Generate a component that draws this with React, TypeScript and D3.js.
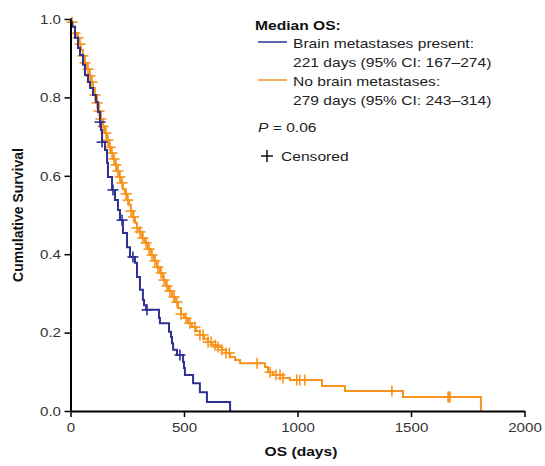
import React, { useEffect, useRef } from "react";
import * as d3 from "d3";

// Kaplan-Meier steps: time (days) of each drop, survival after the drop
const brainTimes = [2, 7, 20, 33, 42, 55, 64, 77, 86, 99, 112, 121, 130, 134, 139, 152, 161, 165, 183, 196, 209, 218, 231, 249, 262, 284, 293, 306, 319, 324, 333, 390, 394, 434, 443, 447, 452, 469, 496, 500, 504, 540, 570, 601, 703];
const brainSurv = [0.992, 0.98, 0.952, 0.926, 0.908, 0.883, 0.857, 0.839, 0.824, 0.806, 0.788, 0.763, 0.737, 0.717, 0.686, 0.666, 0.633, 0.597, 0.564, 0.538, 0.513, 0.487, 0.454, 0.418, 0.393, 0.378, 0.342, 0.309, 0.283, 0.27, 0.258, 0.237, 0.224, 0.202, 0.189, 0.173, 0.156, 0.143, 0.125, 0.11, 0.092, 0.071, 0.048, 0.023, 0];
const brainCensored = [130, 139, 187, 227, 275, 337, 482];

const noBrainTimes = [2, 11, 20, 29, 37, 46, 55, 64, 73, 82, 90, 99, 108, 117, 126, 134, 143, 152, 161, 170, 178, 187, 196, 205, 214, 222, 231, 240, 249, 258, 266, 275, 284, 293, 302, 315, 328, 341, 355, 368, 381, 394, 407, 421, 434, 447, 460, 474, 487, 500, 518, 535, 553, 570, 588, 606, 623, 645, 667, 685, 703, 725, 747, 857, 870, 892, 936, 967, 1108, 1209, 1465, 1808];
const noBrainSurv = [0.992, 0.98, 0.964, 0.952, 0.936, 0.921, 0.906, 0.888, 0.872, 0.855, 0.839, 0.824, 0.806, 0.786, 0.765, 0.745, 0.726, 0.709, 0.691, 0.673, 0.658, 0.643, 0.628, 0.612, 0.597, 0.582, 0.566, 0.554, 0.538, 0.526, 0.51, 0.495, 0.48, 0.467, 0.457, 0.441, 0.429, 0.413, 0.398, 0.383, 0.367, 0.352, 0.334, 0.319, 0.306, 0.291, 0.278, 0.263, 0.247, 0.237, 0.224, 0.214, 0.204, 0.194, 0.184, 0.176, 0.168, 0.163, 0.156, 0.148, 0.138, 0.13, 0.122, 0.112, 0.099, 0.092, 0.084, 0.079, 0.064, 0.051, 0.036, 0];
const noBrainCensored = [7, 20, 33, 42, 55, 64, 77, 86, 95, 108, 117, 126, 134, 143, 156, 165, 174, 183, 192, 200, 209, 218, 227, 245, 253, 266, 278, 293, 306, 319, 333, 346, 359, 372, 385, 399, 412, 425, 438, 456, 469, 487, 509, 526, 548, 570, 584, 606, 619, 637, 650, 667, 685, 700, 822, 879, 905, 923, 936, 997, 1010, 1032, 1416, 1663, 1667, 1672];

const xTicks = [0, 500, 1000, 1500, 2000];
const yTicks = [0, 0.2, 0.4, 0.6, 0.8, 1.0];

const BLUE = "#2e3192";
const ORANGE = "#f7941e";
const FONT = "Liberation Sans, Arial, sans-serif";

const App = () => {
  const svgRef = useRef<SVGSVGElement>(null);

  useEffect(() => {
    const svg = d3.select(svgRef.current);
    svg.selectAll("*").remove();

    const x = d3.scaleLinear().domain([0, 2000]).range([70.5, 524.5]);
    const y = d3.scaleLinear().domain([0, 1]).range([411, 19]);

    const line = d3
      .line<[number, number]>()
      .x((d) => x(d[0]))
      .y((d) => y(d[1]))
      .curve(d3.curveStepAfter);

    const drawSeries = (times: number[], surv: number[], censored: number[], color: string) => {
      const pts: [number, number][] = [[0, 1], ...times.map((t, i) => [t, surv[i]] as [number, number])];
      svg
        .append("path")
        .attr("d", line(pts))
        .attr("fill", "none")
        .attr("stroke", color)
        .attr("stroke-width", 2);

      const bis = d3.bisector((d: number) => d).right;
      const survAt = (t: number) => {
        const i = bis(times, t);
        return i === 0 ? 1 : surv[i - 1];
      };
      const g = svg.append("g").attr("stroke", color).attr("stroke-width", 1.6);
      censored.forEach((t) => {
        const cx = x(t);
        const cy = y(survAt(t));
        g.append("line").attr("x1", cx - 5.5).attr("x2", cx + 5.5).attr("y1", cy).attr("y2", cy);
        g.append("line").attr("x1", cx).attr("x2", cx).attr("y1", cy - 5.5).attr("y2", cy + 5.5);
      });
    };

    drawSeries(noBrainTimes, noBrainSurv, noBrainCensored, ORANGE);
    drawSeries(brainTimes, brainSurv, brainCensored, BLUE);

    // axes
    const xAxis = svg
      .append("g")
      .attr("transform", `translate(0,${y(0)})`)
      .call(
        d3.axisBottom(x).tickValues(xTicks).tickFormat(d3.format("d")).tickSize(6).tickSizeOuter(0).tickPadding(5)
      );
    const yAxis = svg
      .append("g")
      .attr("transform", `translate(${x(0)},0)`)
      .call(
        d3.axisLeft(y).tickValues(yTicks).tickFormat(d3.format(".1f")).tickSize(6).tickSizeOuter(0).tickPadding(3)
      );
    [xAxis, yAxis].forEach((a) => {
      a.select(".domain").attr("stroke", "#000").attr("stroke-width", 2);
      a.selectAll(".tick line").attr("stroke", "#000").attr("stroke-width", 1.5);
      a.selectAll(".tick text")
        .attr("fill", "#333")
        .style("font-family", FONT)
        .style("font-size", "13.5px")
        .attr("transform", "scale(1.12,1)");
    });
    yAxis.selectAll(".tick text").attr("x", -8.5);

    // text stretched a little in width, as in the source figure
    const addText = (
      parent: d3.Selection<any, unknown, null, undefined>,
      tx: number,
      ty: number,
      str: string,
      opts: { bold?: boolean; anchor?: string; size?: number } = {}
    ) =>
      parent
        .append("text")
        .attr("transform", `translate(${tx},${ty}) scale(1.2,1)`)
        .attr("text-anchor", opts.anchor || "start")
        .style("font-family", FONT)
        .style("font-size", `${opts.size || 13}px`)
        .style("font-weight", opts.bold ? "bold" : "normal")
        .text(str);

    addText(svg, 301, 456, "OS (days)", { bold: true, anchor: "middle" }).attr("fill", "#111");

    svg
      .append("text")
      .attr("transform", `translate(23,215) rotate(-90)`)
      .attr("text-anchor", "middle")
      .style("font-family", FONT)
      .style("font-size", "14px")
      .style("font-weight", "bold")
      .attr("fill", "#111")
      .text("Cumulative Survival");

    // legend
    const lg = svg.append("g").attr("fill", "#222");
    addText(lg, 255, 29.5, "Median OS:", { bold: true }).attr("fill", "#111");
    lg.append("line").attr("x1", 258).attr("x2", 287).attr("y1", 42).attr("y2", 42).attr("stroke", BLUE).attr("stroke-width", 1.5);
    addText(lg, 293, 48, "Brain metastases present:");
    addText(lg, 293, 67, "221 days (95% CI: 167\u2013274)");
    lg.append("line").attr("x1", 258).attr("x2", 287).attr("y1", 80).attr("y2", 80).attr("stroke", ORANGE).attr("stroke-width", 1.5);
    addText(lg, 293, 86, "No brain metastases:");
    addText(lg, 293, 105, "279 days (95% CI: 243\u2013314)");
    const p = lg
      .append("text")
      .attr("transform", "translate(258,131.5) scale(1.2,1)")
      .style("font-family", FONT)
      .style("font-size", "13px");
    p.append("tspan").style("font-style", "italic").text("P");
    p.append("tspan").text(" = 0.06");
    lg.append("line").attr("x1", 261).attr("x2", 273).attr("y1", 156).attr("y2", 156).attr("stroke", "#111").attr("stroke-width", 1.5);
    lg.append("line").attr("x1", 267).attr("x2", 267).attr("y1", 150).attr("y2", 162).attr("stroke", "#111").attr("stroke-width", 1.5);
    addText(lg, 281, 160.5, "Censored");
  }, []);

  return (
    <svg
      ref={svgRef}
      width={545}
      height={466}
      style={{ position: "absolute", left: 0, top: 0, background: "#fff" }}
    ></svg>
  );
};

export default App;
